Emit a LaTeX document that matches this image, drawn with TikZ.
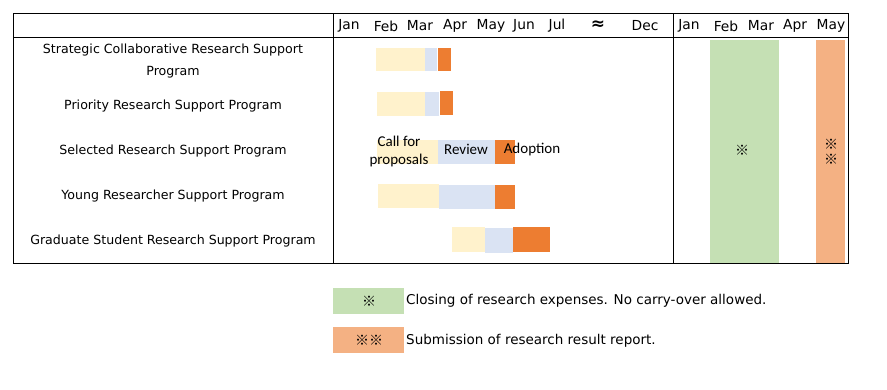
\documentclass[tikz,border=0pt]{standalone}
\usepackage{fontspec}
\setmainfont{DejaVu Sans}
\newfontfamily\calib{Carlito}
\newfontfamily\cjk{Noto Sans CJK JP}
\definecolor{cream}{HTML}{FFF2CC}
\definecolor{pblue}{HTML}{DAE3F3}
\definecolor{dorange}{HTML}{ED7D31}
\definecolor{lgreen}{HTML}{C5E0B4}
\definecolor{lorange}{HTML}{F4B183}
\tikzset{
  rowlbl/.style={font=\fontsize{12.6}{22}\selectfont, align=center, inner sep=0pt},
  mon/.style={font=\fontsize{13.8}{14}\selectfont, inner sep=0pt},
  barlbl/.style={font=\calib\fontsize{15}{18}\selectfont, align=center, inner sep=0pt},
  legtxt/.style={font=\fontsize{13.5}{14}\selectfont, anchor=west, inner sep=0pt},
  refm/.style={font=\cjk\fontsize{14}{14}\selectfont, inner sep=0pt},
  tline/.style={line width=1pt, black},
}
\begin{document}
\begin{tikzpicture}[x=1pt,y=-1pt]
\useasboundingbox (0,0) rectangle (887,389);
% bars left
\fill[cream] (376,48) rectangle (425,71);
\fill[pblue] (425,48) rectangle (437,71);
\fill[dorange] (438,48) rectangle (451,71);
\fill[cream] (377,92) rectangle (425,116);
\fill[pblue] (425,92) rectangle (439,116);
\fill[dorange] (440,91) rectangle (453,115);
\fill[cream] (377,140) rectangle (438,164);
\fill[pblue] (438,140) rectangle (495,164);
\fill[dorange] (495,140) rectangle (515,164);
\fill[cream] (378,184) rectangle (439,208);
\fill[pblue] (439,185) rectangle (495,209);
\fill[dorange] (495,185) rectangle (515,209);
\fill[cream] (452,227) rectangle (485,252);
\fill[pblue] (485,228) rectangle (513,253);
\fill[dorange] (513,227) rectangle (550,252);
% right columns
\fill[lgreen] (710,40) rectangle (779,263);
\fill[lorange] (816,40) rectangle (845,263);
% table lines
\draw[tline] (13,13) rectangle (848,263);
\draw[tline] (13,37) -- (848,37);
\draw[tline] (333.5,13) -- (333.5,263);
\draw[tline] (673.5,13) -- (673.5,263);
% header months
\node[mon] (m1) at (349,26) {Jan};
\node[mon] (m2) at (386,26) {Feb};
\node[mon] (m3) at (420,26) {Mar};
\node[mon] (m4) at (455,26) {Apr};
\node[mon] (m5) at (491,26) {May};
\node[mon] (m6) at (524,26) {Jun};
\node[mon] (m7) at (557,26) {Jul};
\node[mon, font=\bfseries\fontsize{17}{17}\selectfont] (apx) at (598,25) {≈};
\node[mon] (m12) at (645,26) {Dec};
\node[mon] (n1) at (689,26) {Jan};
\node[mon] (n2) at (726,26) {Feb};
\node[mon] (n3) at (761,26) {Mar};
\node[mon] (n4) at (795,26) {Apr};
\node[mon] (n5) at (831,26) {May};
% row labels
\node[rowlbl] (r1) at (173,61) {Strategic Collaborative Research Support\\Program};
\node[rowlbl] (r2) at (173,106) {Priority Research Support Program};
\node[rowlbl] (r3) at (173,151) {Selected Research Support Program};
\node[rowlbl] (r4) at (173,196) {Young Researcher Support Program};
\node[rowlbl] (r5) at (173,241) {Graduate Student Research Support Program};
% bar labels
\node[barlbl] (cfp) at (399,151) {Call for\\proposals};
\node[barlbl] (rev) at (466,149) {Review};
\node[barlbl] (adp) at (532,149) {Adoption};
% reference marks
\node[refm] (k1) at (742,150) {※};
\node[refm] (k2) at (831,144) {※};
\node[refm] (k3) at (831,159) {※};
% legend
\fill[lgreen] (333,288) rectangle (404,314);
\fill[lorange] (333,327) rectangle (404,353);
\node[refm] (lg1) at (369,301) {※};
\node[refm] (lg2) at (369,340) {※※};
\node[legtxt] (lt1) at (406,301) {Closing of research expenses. No carry-over allowed.};
\node[legtxt] (lt2) at (406,341) {Submission of research result report.};
\end{tikzpicture}
\end{document}
